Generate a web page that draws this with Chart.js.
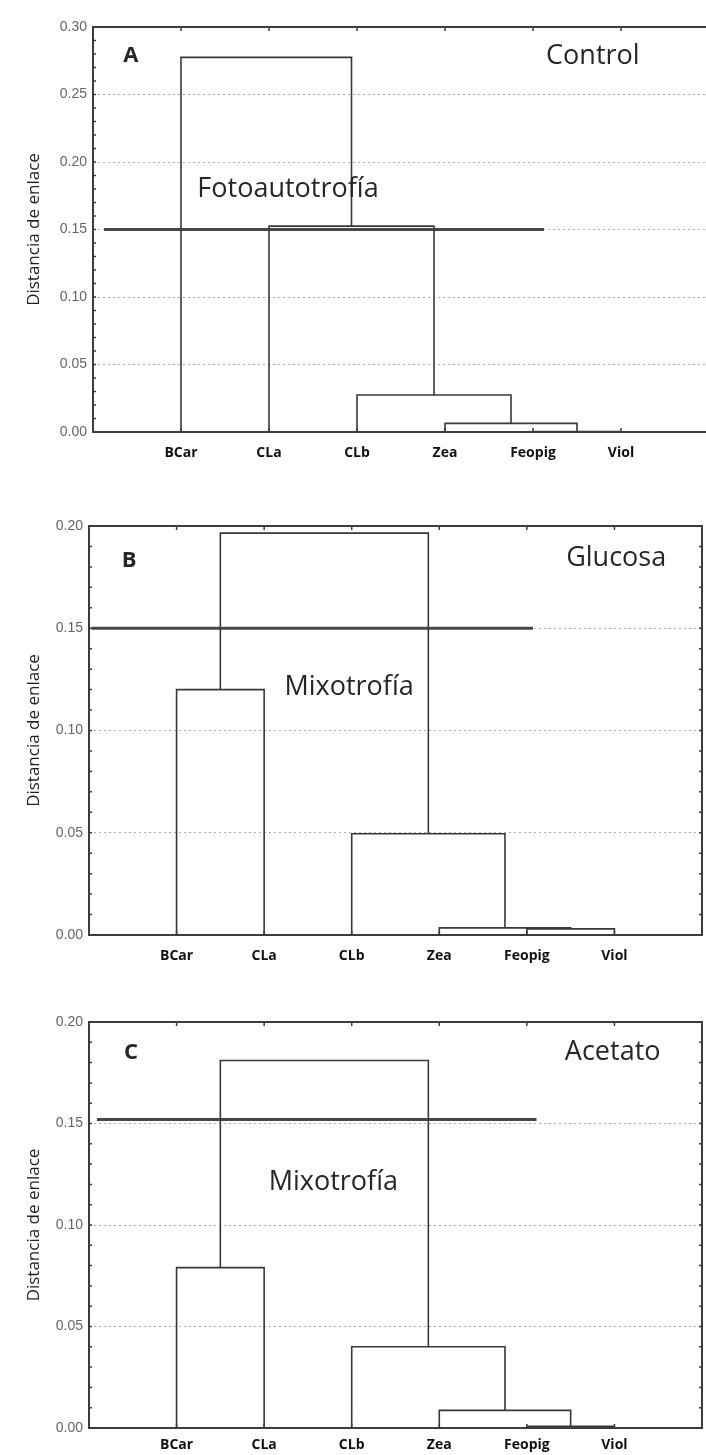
<!DOCTYPE html>
<html lang="es">
<head>
<meta charset="utf-8">
<title>Dendrogramas de pigmentos</title>
<script src="https://cdn.jsdelivr.net/npm/chart.js@4.4.1/dist/chart.umd.min.js"></script>
<style>
  html, body { margin: 0; padding: 0; background: #fff; overflow: hidden; }
  .panel { position: absolute; left: 0; }
  #boxA { top: 0; width: 712px; height: 472px; }
  #boxB { top: 500px; width: 706px; height: 475px; }
  #boxC { top: 995px; width: 706px; height: 473px; }
</style>
</head>
<body>
<div id="boxA" class="panel"><canvas id="panelA" width="712" height="472"></canvas></div>
<div id="boxB" class="panel"><canvas id="panelB" width="706" height="475"></canvas></div>
<div id="boxC" class="panel"><canvas id="panelC" width="706" height="473"></canvas></div>
<script>
const leaves = ['BCar', 'CLa', 'CLb', 'Zea', 'Feopig', 'Viol'];

// merge tables: nodes 0-5 are the leaves, merge i becomes node 6 + i
const controlLeft = [4, 3, 2, 1, 0];
const controlRight = [5, 6, 7, 8, 9];
const controlHeight = [0.0003, 0.0064, 0.0274, 0.1525, 0.2775];

const glucosaLeft = [4, 3, 2, 0, 9];
const glucosaRight = [5, 6, 7, 1, 8];
const glucosaHeight = [0.0030, 0.0035, 0.0495, 0.1200, 0.1965];

const acetatoLeft = [4, 3, 2, 0, 9];
const acetatoRight = [5, 6, 7, 1, 8];
const acetatoHeight = [0.0008, 0.0087, 0.0400, 0.0790, 0.1810];

// cut level drawn across each dendrogram
const cutLevel = [0.150, 0.150, 0.152];
const cutStart = [0.125, 0.03, 0.09];
const cutEnd = [5.125, 5.07, 5.11];

const yMax = [0.30, 0.20, 0.20];

// turn a merge table into the U-shaped links of the tree
function buildLinks(left, right, height) {
    const pos = leaves.map((_, i) => i + 1);
    const hts = leaves.map(() => 0);
    const links = [];
    for (let i = 0; i < height.length; i++) {
        const a = left[i], b = right[i], h = height[i];
        links.push([
            { x: pos[a], y: hts[a] },
            { x: pos[a], y: h },
            { x: pos[b], y: h },
            { x: pos[b], y: hts[b] }
        ]);
        pos.push((pos[a] + pos[b]) / 2);
        hts.push(h);
    }
    return links;
}

// box around the plot plus the small inner tick marks
const frame = {
    id: 'frame',
    afterDatasetsDraw(chart) {
        const { ctx, chartArea: a, scales: { x, y } } = chart;
        ctx.save();
        ctx.strokeStyle = '#3c3c3c';
        ctx.lineWidth = 1.5;
        ctx.beginPath();
        for (let v = 1; v <= leaves.length; v++) {
            const px = x.getPixelForValue(v);
            ctx.moveTo(px, a.top); ctx.lineTo(px, a.top + 4);
            ctx.moveTo(px, a.bottom); ctx.lineTo(px, a.bottom - 4);
        }
        for (let k = 1; k < Math.round(y.max * 100); k++) {
            const py = y.getPixelForValue(k / 100);
            ctx.moveTo(a.left, py); ctx.lineTo(a.left + 3, py);
            ctx.moveTo(a.right, py); ctx.lineTo(a.right - 3, py);
        }
        ctx.stroke();
        ctx.lineWidth = 2;
        ctx.strokeRect(a.left, a.top, a.right - a.left, a.bottom - a.top);
        ctx.restore();
    }
};

// panel letter, treatment name and group label, placed in data units
const panelText = {
    id: 'panelText',
    afterDraw(chart, args, opts) {
        const { ctx, scales: { x, y } } = chart;
        ctx.save();
        ctx.textAlign = 'center';
        ctx.textBaseline = 'middle';
        ctx.fillStyle = '#262626';
        opts.items.forEach(t => {
            ctx.font = t.font;
            ctx.fillText(t.text, x.getPixelForValue(t.x), y.getPixelForValue(t.y));
        });
        ctx.restore();
    }
};

function makeChart(id, idx, left, right, height, items, padTop, padRight, yWidth, labelPad) {
    const datasets = buildLinks(left, right, height).map(pts => ({
        data: pts,
        borderColor: '#383838',
        borderWidth: 1.6,
        pointRadius: 0,
        tension: 0
    }));
    datasets.push({
        data: [
            { x: cutStart[idx], y: cutLevel[idx] },
            { x: cutEnd[idx], y: cutLevel[idx] }
        ],
        borderColor: '#474747',
        borderWidth: 3,
        pointRadius: 0
    });

    return new Chart(document.getElementById(id), {
        type: 'line',
        data: { datasets },
        plugins: [frame, panelText],
        options: {
            responsive: false,
            animation: false,
            events: [],
            layout: { padding: { top: padTop, right: padRight, left: 0, bottom: 0 } },
            plugins: {
                legend: { display: false },
                tooltip: { enabled: false },
                panelText: { items }
            },
            scales: {
                x: {
                    type: 'linear',
                    min: 0,
                    max: 7,
                    afterFit: s => {
                        s.height = 40;
                        s.paddingLeft = 0;
                        s.paddingRight = 0;
                    },
                    grid: { display: false },
                    border: { display: false },
                    ticks: {
                        stepSize: 1,
                        autoSkip: false,
                        maxRotation: 0,
                        padding: labelPad,
                        color: '#111',
                        font: { family: 'Open Sans', size: 14, weight: 'bold' },
                        callback: v => leaves[v - 1] || ''
                    }
                },
                y: {
                    min: 0,
                    max: yMax[idx],
                    afterFit: s => { s.width = yWidth; },
                    grid: { color: '#ababab', lineWidth: 1, drawTicks: false },
                    border: { display: false, dash: [2, 3] },
                    ticks: {
                        stepSize: 0.05,
                        padding: 6,
                        color: '#666',
                        font: { family: 'Liberation Sans', size: 14 },
                        callback: v => v.toFixed(2)
                    },
                    title: {
                        display: true,
                        text: 'Distancia de enlace',
                        color: '#222',
                        padding: { top: 24, bottom: 0 },
                        font: { family: 'Open Sans', size: 17 }
                    }
                }
            }
        }
    });
}

const letterFont = 'bold 22px "Open Sans"';
const labelFont = '27px "Open Sans"';

makeChart('panelA', 0, controlLeft, controlRight, controlHeight, [
    { text: 'A', x: 0.43, y: 0.279, font: letterFont },
    { text: 'Control', x: 5.68, y: 0.2785, font: labelFont },
    { text: 'Fotoautotrofía', x: 2.216, y: 0.180, font: labelFont }
], 27, 3, 93, 5);

makeChart('panelB', 1, glucosaLeft, glucosaRight, glucosaHeight, [
    { text: 'B', x: 0.457, y: 0.183, font: letterFont },
    { text: 'Glucosa', x: 6.02, y: 0.184, font: labelFont },
    { text: 'Mixotrofía', x: 2.97, y: 0.121, font: labelFont }
], 26, 4, 89, 5);

makeChart('panelC', 2, acetatoLeft, acetatoRight, acetatoHeight, [
    { text: 'C', x: 0.48, y: 0.185, font: letterFont },
    { text: 'Acetato', x: 5.98, y: 0.185, font: labelFont },
    { text: 'Mixotrofía', x: 2.79, y: 0.121, font: labelFont }
], 27, 4, 89, 1);
</script>
</body>
</html>
